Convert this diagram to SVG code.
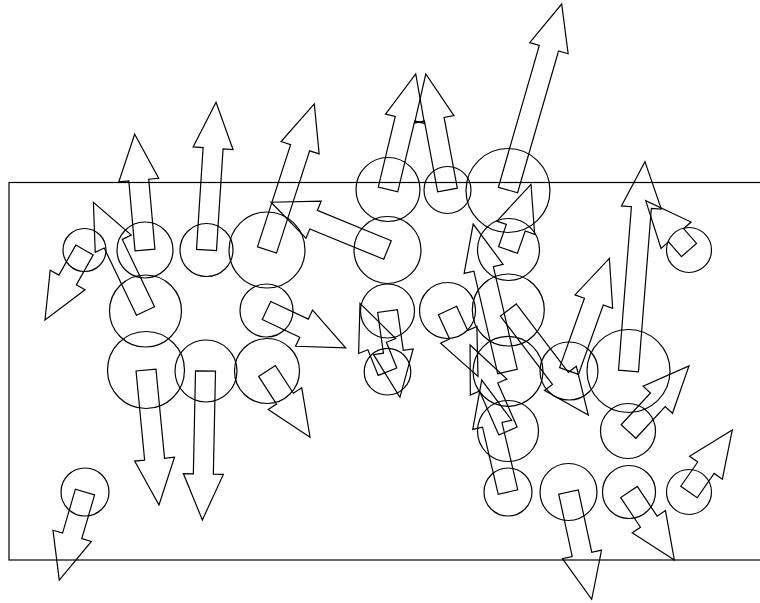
<svg xmlns="http://www.w3.org/2000/svg" width="760" height="603" viewBox="0 0 760 603">
<style>
circle,polygon,rect{fill:none;stroke:#000;stroke-width:1.2}
</style>
<rect id="frame" x="9" y="182.5" width="800" height="377.5"/>
<g id="n1"><circle cx="84.5" cy="250" r="21.5"/><polygon transform="translate(84.5,250) rotate(119.4)" points="0,-10 34.4,-10 34.4,-20 80.4,0 34.4,20 34.4,10 0,10"/></g>
<g id="n2"><circle cx="145" cy="250" r="28"/><polygon transform="translate(145,250) rotate(-95.1)" points="0,-10 70.2,-10 70.2,-20 116.2,0 70.2,20 70.2,10 0,10"/></g>
<g id="n3"><circle cx="206.5" cy="250" r="26.5"/><polygon transform="translate(206.5,250) rotate(-86.3)" points="0,-10 102,-10 102,-20 148,0 102,20 102,10 0,10"/></g>
<g id="n4"><circle cx="267" cy="250" r="38"/><polygon transform="translate(267,250) rotate(-72.05)" points="0,-10 107.5,-10 107.5,-20 153.5,0 107.5,20 107.5,10 0,10"/></g>
<g id="n5"><circle cx="387.5" cy="250" r="33.5"/><polygon transform="translate(387.5,250) rotate(-157.7)" points="0,-10 79.9,-10 79.9,-20 125.9,0 79.9,20 79.9,10 0,10"/></g>
<g id="n6"><circle cx="508.5" cy="249.5" r="31"/><polygon transform="translate(508,250) rotate(-70.7)" points="0,-10 23.6,-10 23.6,-20 69.6,0 23.6,20 23.6,10 0,10"/></g>
<g id="n7"><circle cx="689" cy="250" r="22.5"/><polygon transform="translate(689,250) rotate(-131.3)" points="0,-10 19.6,-10 19.6,-20 65.6,0 19.6,20 19.6,10 0,10"/></g>
<g id="n8"><circle cx="388" cy="189.5" r="32"/><polygon transform="translate(388,189.5) rotate(-76.5)" points="0,-10 72.8,-10 72.8,-20 118.8,0 72.8,20 72.8,10 0,10"/></g>
<g id="n9"><circle cx="447.5" cy="190" r="23.5"/><polygon transform="translate(447.5,190) rotate(-100.6)" points="0,-10 72,-10 72,-20 118,0 72,20 72,10 0,10"/></g>
<g id="n10"><circle cx="508" cy="190.5" r="42"/><polygon transform="translate(508,190) rotate(-73.9)" points="0,-10 147.6,-10 147.6,-20 193.6,0 147.6,20 147.6,10 0,10"/></g>
<g id="n11"><circle cx="145.5" cy="311" r="36"/><polygon transform="translate(145.5,311) rotate(-115.6)" points="0,-10 74.6,-10 74.6,-20 120.6,0 74.6,20 74.6,10 0,10"/></g>
<g id="n12"><circle cx="266.5" cy="310.5" r="26.5"/><polygon transform="translate(266.5,310.5) rotate(25.2)" points="0,-10 41.5,-10 41.5,-20 87.5,0 41.5,20 41.5,10 0,10"/></g>
<g id="n13"><circle cx="387.5" cy="311" r="27"/><polygon transform="translate(387.5,311) rotate(81.8)" points="0,-10 41.2,-10 41.2,-20 87.2,0 41.2,20 41.2,10 0,10"/></g>
<g id="n14"><circle cx="447.5" cy="310.5" r="28"/><polygon transform="translate(447.5,310.5) rotate(65.2)" points="0,-10 26.7,-10 26.7,-20 72.7,0 26.7,20 26.7,10 0,10"/></g>
<g id="n15"><circle cx="508.3" cy="310" r="36"/><polygon transform="translate(508.3,310) rotate(52.7)" points="0,-10 86,-10 86,-20 132,0 86,20 86,10 0,10"/></g>
<g id="n16"><circle cx="146" cy="370" r="38.5"/><polygon transform="translate(146,370) rotate(84.5)" points="0,-10 89.6,-10 89.6,-20 135.6,0 89.6,20 89.6,10 0,10"/></g>
<g id="n17"><circle cx="206" cy="371" r="31"/><polygon transform="translate(205.5,371) rotate(91.2)" points="0,-10 103,-10 103,-20 149,0 103,20 103,10 0,10"/></g>
<g id="n18"><circle cx="267" cy="371" r="32.5"/><polygon transform="translate(267,371) rotate(57)" points="0,-10 33,-10 33,-20 79,0 33,20 33,10 0,10"/></g>
<g id="n19"><circle cx="387.5" cy="371.7" r="23.3"/><polygon transform="translate(387.5,371.7) rotate(-111.9)" points="0,-10 27.7,-10 27.7,-20 73.7,0 27.7,20 27.7,10 0,10"/></g>
<g id="n20"><circle cx="508" cy="371.3" r="35"/><polygon transform="translate(507.5,371.5) rotate(-103.1)" points="0,-10 105.4,-10 105.4,-20 151.4,0 105.4,20 105.4,10 0,10"/></g>
<g id="n21"><circle cx="569" cy="371" r="29"/><polygon transform="translate(569,371) rotate(-70.3)" points="0,-10 73.7,-10 73.7,-20 119.7,0 73.7,20 73.7,10 0,10"/></g>
<g id="n22"><circle cx="628.5" cy="371" r="41.5"/><polygon transform="translate(628.5,371) rotate(-85.5)" points="0,-10 164,-10 164,-20 210,0 164,20 164,10 0,10"/></g>
<g id="n23"><circle cx="508" cy="431" r="30.5"/><polygon transform="translate(508,431) rotate(-113.8)" points="0,-10 48,-10 48,-20 94,0 48,20 48,10 0,10"/></g>
<g id="n24"><circle cx="628" cy="431" r="27.5"/><polygon transform="translate(628.5,431.5) rotate(-47.3)" points="0,-10 43.2,-10 43.2,-20 89.2,0 43.2,20 43.2,10 0,10"/></g>
<g id="n25"><circle cx="85" cy="492" r="24"/><polygon transform="translate(85,492) rotate(106.3)" points="0,-10 45.7,-10 45.7,-20 91.7,0 45.7,20 45.7,10 0,10"/></g>
<g id="n26"><circle cx="508" cy="492" r="24"/><polygon transform="translate(508,492) rotate(-103.2)" points="0,-10 69,-10 69,-20 115,0 69,20 69,10 0,10"/></g>
<g id="n27"><circle cx="568.5" cy="492" r="28.5"/><polygon transform="translate(568.5,492) rotate(77.8)" points="0,-10 63.8,-10 63.8,-20 109.8,0 63.8,20 63.8,10 0,10"/></g>
<g id="n28"><circle cx="629" cy="492" r="26.5"/><polygon transform="translate(629,492) rotate(56.3)" points="0,-10 35.7,-10 35.7,-20 81.7,0 35.7,20 35.7,10 0,10"/></g>
<g id="n29"><circle cx="689" cy="492" r="22.5"/><polygon transform="translate(689,492) rotate(-55.1)" points="0,-10 29.6,-10 29.6,-20 75.6,0 29.6,20 29.6,10 0,10"/></g>
<g id="connectors"/>
</svg>
